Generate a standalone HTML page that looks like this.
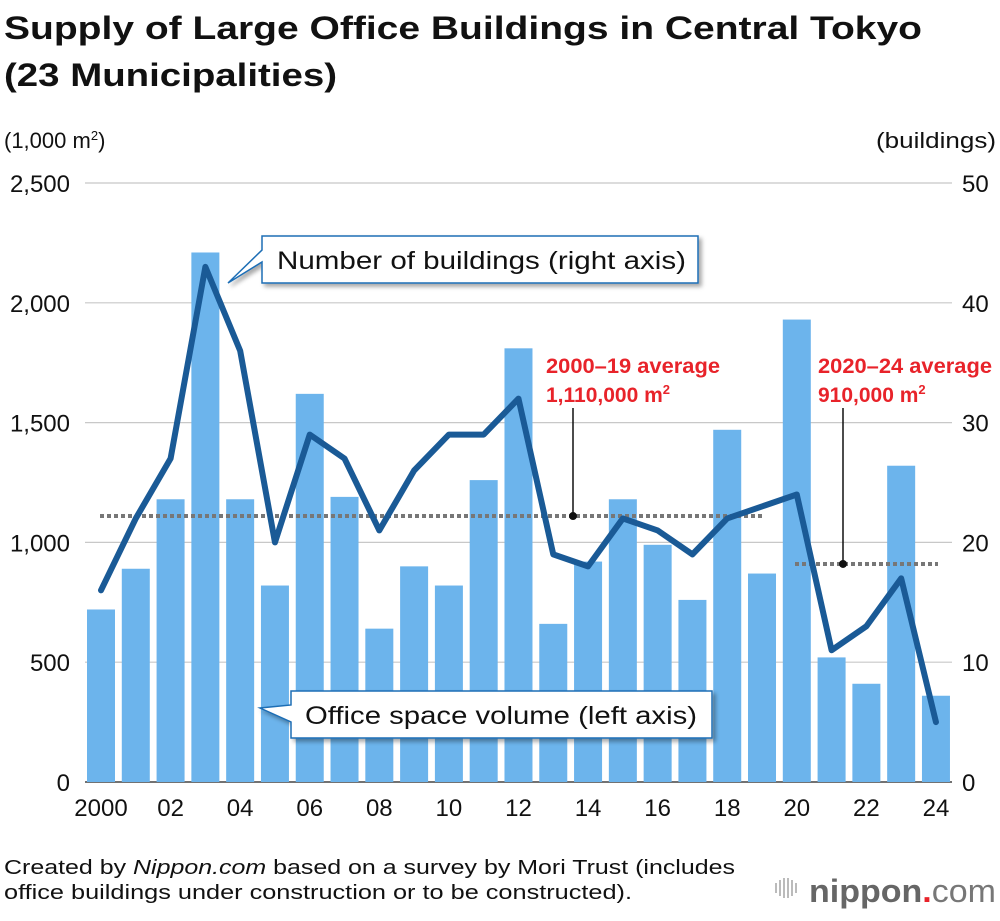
<!DOCTYPE html>
<html><head><meta charset="utf-8"><style>
body{margin:0;background:#fff;width:1000px;height:916px;overflow:hidden;font-family:"Liberation Sans",Arial,sans-serif}
svg text{font-family:"Liberation Sans",Arial,sans-serif}
</style></head><body>
<svg id="c" width="1000" height="916" viewBox="0 0 1000 916" xmlns="http://www.w3.org/2000/svg">
<defs><filter id="sh" x="-10%" y="-20%" width="130%" height="160%"><feDropShadow dx="3" dy="3" stdDeviation="2" flood-color="#000" flood-opacity="0.35"/></filter></defs>
<text x="4" y="39" font-size="32" font-weight="bold" fill="#111" textLength="918" lengthAdjust="spacingAndGlyphs">Supply of Large Office Buildings in Central Tokyo</text>
<text x="4" y="86" font-size="32" font-weight="bold" fill="#111" textLength="333" lengthAdjust="spacingAndGlyphs">(23 Municipalities)</text>
<text x="4" y="148" font-size="22" fill="#111">(1,000 m<tspan font-size="13" dy="-8">2</tspan><tspan dy="8">)</tspan></text>
<text x="996" y="148" font-size="22" fill="#111" text-anchor="end" textLength="120" lengthAdjust="spacingAndGlyphs">(buildings)</text>
<g id="grid"></g><g id="bars"></g><g id="avg"></g><g id="line"></g><g id="ticks"></g>
<g>
<path d="M262,236 H698 V283 H262 V262 L228,283 L262,250 Z" fill="#fff" stroke="#1f6eb5" stroke-width="1.5" filter="url(#sh)"/>
<text x="277" y="269" font-size="25" fill="#111" textLength="409" lengthAdjust="spacingAndGlyphs">Number of buildings (right axis)</text></g>
<g>
<path d="M291,691 H712 V738 H291 V722 L260,708 L291,705 Z" fill="#fff" stroke="#1f6eb5" stroke-width="1.5" filter="url(#sh)"/>
<text x="305" y="724" font-size="25" fill="#111" textLength="392" lengthAdjust="spacingAndGlyphs">Office space volume (left axis)</text></g>
<g fill="#e8232a" font-size="21" font-weight="bold">
<text x="546" y="373" textLength="174" lengthAdjust="spacingAndGlyphs">2000–19 average</text>
<text x="546" y="402">1,110,000 m<tspan font-size="13" dy="-8">2</tspan></text>
<text x="818" y="373" textLength="174" lengthAdjust="spacingAndGlyphs">2020–24 average</text>
<text x="818" y="402">910,000 m<tspan font-size="13" dy="-8">2</tspan></text></g>
<text x="4" y="874" font-size="20" fill="#111" textLength="731" lengthAdjust="spacingAndGlyphs">Created by <tspan font-style="italic">Nippon.com</tspan> based on a survey by Mori Trust (includes</text>
<text x="4" y="899" font-size="20" fill="#111" textLength="628" lengthAdjust="spacingAndGlyphs">office buildings under construction or to be constructed).</text>
<g>
<g fill="#bbb"><rect x="775" y="883" width="2" height="10"/><rect x="779" y="880" width="2" height="16"/><rect x="783" y="878" width="2" height="20"/><rect x="787" y="878" width="2" height="20"/><rect x="791" y="880" width="2" height="16"/><rect x="795" y="883" width="2" height="10"/></g>
<text x="809" y="902" font-size="32" font-weight="bold" fill="#666" textLength="187" lengthAdjust="spacingAndGlyphs">nippon<tspan fill="#e8232a">.</tspan><tspan font-weight="normal" fill="#777">com</tspan></text></g>
</svg>
<script>
const years=[2000,2001,2002,2003,2004,2005,2006,2007,2008,2009,2010,2011,2012,2013,2014,2015,2016,2017,2018,2019,2020,2021,2022,2023,2024];
const space=[720,890,1180,2210,1180,820,1620,1190,640,900,820,1260,1810,660,920,1180,990,760,1470,870,1930,520,410,1320,360];
const buildings=[16,22,27,43,36,20,29,27,21,26,29,29,32,19,18,22,21,19,22,23,24,11,13,17,5];
const leftTicks=[0,500,1000,1500,2000,2500];
const rightTicks=[0,10,20,30,40,50];
const xLabels=["2000","02","04","06","08","10","12","14","16","18","20","22","24"];
const avgValues=[1110,910];
const NS="http://www.w3.org/2000/svg";
const y0=782,y1=183;
const yL=v=>y0-(v/2500)*(y0-y1);
const yR=v=>y0-(v/50)*(y0-y1);
const xC=i=>101+i*34.79;
function mk(t,a,p){const e=document.createElementNS(NS,t);for(const k in a)e.setAttribute(k,a[k]);document.getElementById(p).appendChild(e);return e;}
leftTicks.forEach((v,i)=>{
 const g=mk('line',{x1:85,x2:952,y1:yL(v),y2:yL(v),stroke:i?'#c8c8c8':'#444','stroke-width':i?1.2:1.5},'grid');
 
 
 const t=mk('text',{x:70,y:yL(v)+9,'font-size':24,'text-anchor':'end',fill:'#111'},'ticks');t.textContent=v.toLocaleString('en-US');
 
 
});
rightTicks.forEach(v=>{
 const t=mk('text',{x:962,y:yR(v)+9,'font-size':24,fill:'#111'},'ticks');t.textContent=v;
 
 
});
xLabels.forEach((l,i)=>{
 const t=mk('text',{x:xC(i*2),y:816,'font-size':24,'text-anchor':'middle',fill:'#111'},'ticks');t.textContent=l;
 
 
});
space.forEach((v,i)=>{
 const r=mk('rect',{x:xC(i)-14,y:yL(v),width:28,height:y0-yL(v),fill:'#6cb4ec'},'bars');
 
 
});
const a1=mk('line',{x1:100,x2:765,y1:yL(avgValues[0]),y2:yL(avgValues[0]),stroke:'#777','stroke-width':4,'stroke-dasharray':'4 3'},'avg');


const a2=mk('line',{x1:795,x2:938,y1:yL(avgValues[1]),y2:yL(avgValues[1]),stroke:'#777','stroke-width':4,'stroke-dasharray':'4 3'},'avg');


[[573,avgValues[0]],[843,avgValues[1]]].forEach(([x,v])=>{
 const l=mk('line',{x1:x,x2:x,y1:408,y2:yL(v),stroke:'#111','stroke-width':1.5},'avg');
 
 
 const d=mk('circle',{cx:x,cy:yL(v),r:4,fill:'#111'},'avg');
 
 
});
const pl=mk('polyline',{points:buildings.map((v,i)=>xC(i)+','+yR(v)).join(' '),fill:'none',stroke:'#1a5a96','stroke-width':6,'stroke-linejoin':'round','stroke-linecap':'round'},'line');


</script>
</body></html>
